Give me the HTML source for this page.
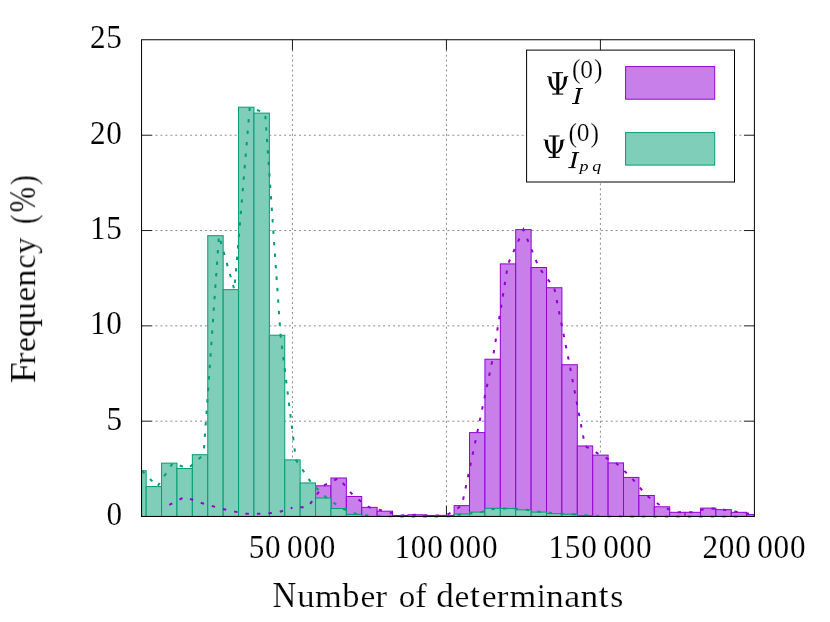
<!DOCTYPE html>
<html><head><meta charset="utf-8"><title>Histogram</title>
<style>html,body{margin:0;padding:0;background:#fff;}body{width:830px;height:622px;overflow:hidden;}</style>
</head><body>
<svg width="830" height="622" viewBox="0 0 830 622" style="display:block;font-family:'Liberation Serif',serif">
<defs><clipPath id="pc"><rect x="141.55" y="39.75" width="612.8499999999999" height="476.70000000000005"/></clipPath></defs>
<rect width="830" height="622" fill="#fff"/>
<g stroke="#000" stroke-width="0.46" stroke-dasharray="2 2.948" stroke-dashoffset="1.004" fill="none"><line x1="292.45" y1="505.95" x2="292.45" y2="50.25"/><line x1="446.44" y1="505.95" x2="446.44" y2="50.25"/><line x1="600.42" y1="505.95" x2="600.42" y2="50.25"/></g>
<g stroke="#000" stroke-width="0.46" stroke-dasharray="2 2.948" stroke-dashoffset="1.504" fill="none"><line x1="152.05" y1="421.18" x2="743.90" y2="421.18"/><line x1="152.05" y1="325.86" x2="743.90" y2="325.86"/><line x1="152.05" y1="230.54" x2="743.90" y2="230.54"/><line x1="152.05" y1="135.22" x2="743.90" y2="135.22"/></g>
<g stroke="#000" stroke-width="0.9" fill="none"><line x1="292.45" y1="516.45" x2="292.45" y2="505.95000000000005"/><line x1="292.45" y1="39.75" x2="292.45" y2="50.25"/><line x1="446.44" y1="516.45" x2="446.44" y2="505.95000000000005"/><line x1="446.44" y1="39.75" x2="446.44" y2="50.25"/><line x1="600.42" y1="516.45" x2="600.42" y2="505.95000000000005"/><line x1="600.42" y1="39.75" x2="600.42" y2="50.25"/><line x1="141.55" y1="421.18" x2="152.05" y2="421.18"/><line x1="754.4" y1="421.18" x2="743.9" y2="421.18"/><line x1="141.55" y1="325.86" x2="152.05" y2="325.86"/><line x1="754.4" y1="325.86" x2="743.9" y2="325.86"/><line x1="141.55" y1="230.54" x2="152.05" y2="230.54"/><line x1="754.4" y1="230.54" x2="743.9" y2="230.54"/><line x1="141.55" y1="135.22" x2="152.05" y2="135.22"/><line x1="754.4" y1="135.22" x2="743.9" y2="135.22"/></g>
<g clip-path="url(#pc)"><g fill="#c97fe9" stroke="#9400d3" stroke-width="1"><rect x="161.57" y="504.87" width="15.40" height="11.58"/><rect x="176.97" y="496.86" width="15.40" height="19.59"/><rect x="192.36" y="502.58" width="15.40" height="13.87"/><rect x="207.76" y="506.97" width="15.40" height="9.48"/><rect x="223.16" y="510.97" width="15.40" height="5.48"/><rect x="238.56" y="513.64" width="15.40" height="2.81"/><rect x="253.96" y="513.64" width="15.40" height="2.81"/><rect x="269.36" y="512.69" width="15.40" height="3.76"/><rect x="284.75" y="507.73" width="15.40" height="8.72"/><rect x="300.15" y="506.97" width="15.40" height="9.48"/><rect x="315.55" y="485.81" width="15.40" height="30.64"/><rect x="330.95" y="477.99" width="15.40" height="38.46"/><rect x="346.35" y="496.48" width="15.40" height="19.97"/><rect x="361.74" y="507.35" width="15.40" height="9.10"/><rect x="377.14" y="511.16" width="15.40" height="5.29"/><rect x="392.54" y="515.45" width="15.40" height="1.00"/><rect x="407.94" y="514.78" width="15.40" height="1.67"/><rect x="423.34" y="515.45" width="15.40" height="1.00"/><rect x="438.74" y="515.36" width="15.40" height="1.09"/><rect x="454.13" y="505.63" width="15.40" height="10.82"/><rect x="469.53" y="432.62" width="15.40" height="83.83"/><rect x="484.93" y="359.22" width="15.40" height="157.23"/><rect x="500.33" y="263.90" width="15.40" height="252.55"/><rect x="515.73" y="229.59" width="15.40" height="286.86"/><rect x="531.13" y="267.52" width="15.40" height="248.93"/><rect x="546.52" y="287.73" width="15.40" height="228.72"/><rect x="561.92" y="364.75" width="15.40" height="151.70"/><rect x="577.32" y="445.96" width="15.40" height="70.49"/><rect x="592.72" y="455.11" width="15.40" height="61.34"/><rect x="608.12" y="462.93" width="15.40" height="53.52"/><rect x="623.51" y="477.42" width="15.40" height="39.03"/><rect x="638.91" y="495.53" width="15.40" height="20.92"/><rect x="654.31" y="506.78" width="15.40" height="9.67"/><rect x="669.71" y="512.31" width="15.40" height="4.14"/><rect x="685.11" y="512.31" width="15.40" height="4.14"/><rect x="700.51" y="508.11" width="15.40" height="8.34"/><rect x="715.90" y="509.64" width="15.40" height="6.81"/><rect x="731.30" y="512.31" width="15.40" height="4.14"/><rect x="746.70" y="514.59" width="7.70" height="1.86"/></g><g fill="#7fceb9" stroke="#009e73" stroke-width="1"><rect x="141.55" y="470.75" width="4.62" height="45.70"/><rect x="146.17" y="486.57" width="15.40" height="29.88"/><rect x="161.57" y="463.12" width="15.40" height="53.33"/><rect x="176.97" y="468.46" width="15.40" height="47.99"/><rect x="192.36" y="454.73" width="15.40" height="61.72"/><rect x="207.76" y="235.69" width="15.40" height="280.76"/><rect x="223.16" y="289.64" width="15.40" height="226.81"/><rect x="238.56" y="107.20" width="15.40" height="409.25"/><rect x="253.96" y="113.11" width="15.40" height="403.34"/><rect x="269.36" y="335.20" width="15.40" height="181.25"/><rect x="284.75" y="459.88" width="15.40" height="56.57"/><rect x="300.15" y="482.95" width="15.40" height="33.50"/><rect x="315.55" y="498.01" width="15.40" height="18.44"/><rect x="330.95" y="508.49" width="15.40" height="7.96"/><rect x="346.35" y="514.40" width="15.40" height="2.05"/><rect x="454.13" y="514.02" width="15.40" height="2.43"/><rect x="469.53" y="512.12" width="15.40" height="4.33"/><rect x="484.93" y="508.30" width="15.40" height="8.15"/><rect x="500.33" y="508.49" width="15.40" height="7.96"/><rect x="515.73" y="509.83" width="15.40" height="6.62"/><rect x="531.13" y="512.12" width="15.40" height="4.33"/><rect x="546.52" y="513.64" width="15.40" height="2.81"/><rect x="561.92" y="514.21" width="15.40" height="2.24"/><rect x="577.32" y="515.55" width="15.40" height="0.90"/></g></g>
<path d="M169.27,504.87 L184.67,496.86 L200.06,502.58 L215.46,506.97 L230.86,510.97 L246.26,513.64 L261.66,513.64 L277.05,512.69 L292.45,507.73" fill="none" stroke="#9400d3" stroke-width="2.0" stroke-dasharray="3.4 8.10" stroke-dashoffset="0.00"/><path d="M292.45,507.73 L307.85,506.97 L323.25,485.81 L338.65,477.99 L354.05,496.48 L369.44,507.35 L384.84,511.16 L400.24,515.45 L415.64,514.78 L431.04,515.45 L446.44,515.36" fill="none" stroke="#9400d3" stroke-width="2.0" stroke-dasharray="3.4 8.10" stroke-dashoffset="3.70"/><path d="M446.44,515.36 L461.83,505.63 L477.23,432.62 L492.63,359.22 L508.03,263.90 L523.43,229.59 L538.82,267.52 L554.22,287.73 L569.62,364.75 L585.02,445.96 L600.42,455.11 L615.82,462.93 L631.21,477.42 L646.61,495.53 L662.01,506.78 L677.41,512.31 L692.81,512.31 L708.21,508.11 L723.60,509.64 L739.00,512.31 L754.40,514.59" fill="none" stroke="#9400d3" stroke-width="2.0" stroke-dasharray="3.4 8.10" stroke-dashoffset="10.21"/>
<path d="M141.97,470.75 L157.37,486.57 L172.77,463.12 L188.17,468.46 L203.56,454.73" fill="none" stroke="#009e73" stroke-width="2.0" stroke-dasharray="3.4 8.10" stroke-dashoffset="0.00"/><path d="M203.56,454.73 L218.96,235.69 L234.36,289.64" fill="none" stroke="#009e73" stroke-width="2.0" stroke-dasharray="3.4 8.10" stroke-dashoffset="5.17"/><path d="M234.36,289.64 L249.76,107.20 L265.16,113.11" fill="none" stroke="#009e73" stroke-width="2.0" stroke-dasharray="3.4 8.10" stroke-dashoffset="4.75"/><path d="M265.16,113.11 L280.55,335.20" fill="none" stroke="#009e73" stroke-width="2.0" stroke-dasharray="3.4 8.10" stroke-dashoffset="8.79"/><path d="M280.55,335.20 L295.95,459.88 L311.35,482.95 L326.75,498.01 L342.15,508.49 L357.55,514.40 L372.94,515.93" fill="none" stroke="#009e73" stroke-width="2.0" stroke-dasharray="3.4 8.10" stroke-dashoffset="0.97"/><path d="M372.94,515.93 L388.34,516.31 L403.74,516.50 L419.14,516.50 L434.54,516.50 L449.94,516.12 L465.33,514.02 L480.73,512.12 L496.13,508.30 L511.53,508.49 L526.93,509.83 L542.32,512.12 L557.72,513.64 L573.12,514.21" fill="none" stroke="#009e73" stroke-width="2.0" stroke-dasharray="3.4 8.10" stroke-dashoffset="7.24"/><path d="M573.12,514.21 L588.52,515.55 L603.92,516.12 L619.32,516.31 L634.71,516.50 L650.11,516.50 L665.51,516.50 L680.91,516.50 L696.31,516.50 L711.71,516.50 L727.10,516.50 L742.50,516.50" fill="none" stroke="#009e73" stroke-width="2.0" stroke-dasharray="3.4 8.10" stroke-dashoffset="0.25"/>
<rect x="141.55" y="39.75" width="612.8499999999999" height="476.70000000000005" fill="none" stroke="#000" stroke-width="1"/>
<rect x="526.6" y="50.1" width="207.9" height="131.9" fill="#fff" stroke="#000" stroke-width="1"/>
<rect x="625.6" y="66.6" width="89.1" height="32.6" fill="#c97fe9" stroke="#9400d3" stroke-width="1"/>
<rect x="625.6" y="132.6" width="89.1" height="32.5" fill="#7fceb9" stroke="#009e73" stroke-width="1"/>
<g fill="#000" opacity="0.999" stroke="#fff" stroke-width="0.2">
<g stroke="none" transform="translate(540.00,56.00) scale(0.08197)"><path d="M103,258 C103,330 130,405 197,418 L197,398 C160,390 142,340 140,252 L85,243 L90,256 Z"/><path d="M329,258 C329,330 302,405 235,418 L235,398 C272,390 290,340 292,252 L347,243 L342,256 Z"/><rect x="198" y="203" width="37" height="262"/><rect x="150" y="197" width="132" height="13"/><rect x="148" y="458" width="136" height="13"/></g>
<text transform="translate(571.90,78.20) scale(0.92,1.0)" font-size="27.8">(</text>
<text transform="translate(580.20,78.00) scale(1.04,1.0)" font-size="24.5">0</text>
<text transform="translate(593.90,78.20) scale(0.92,1.0)" font-size="27.8">)</text>
<g stroke="none" transform="translate(0.00,0.00)"><path d="M574.75,103.5 L578.2,88.5 L580.85,88.5 L577.4,103.5 Z"/><rect x="575.8" y="88.0" width="7.1" height="1.0"/><rect x="572.0" y="103.0" width="7.2" height="1.0"/></g>
<g stroke="none" transform="translate(536.45,119.30) scale(0.08197)"><path d="M103,258 C103,330 130,405 197,418 L197,398 C160,390 142,340 140,252 L85,243 L90,256 Z"/><path d="M329,258 C329,330 302,405 235,418 L235,398 C272,390 290,340 292,252 L347,243 L342,256 Z"/><rect x="198" y="203" width="37" height="262"/><rect x="150" y="197" width="132" height="13"/><rect x="148" y="458" width="136" height="13"/></g>
<text transform="translate(568.50,141.50) scale(0.92,1.0)" font-size="27.8">(</text>
<text transform="translate(576.80,141.30) scale(1.04,1.0)" font-size="24.5">0</text>
<text transform="translate(590.50,141.50) scale(0.92,1.0)" font-size="27.8">)</text>
<g stroke="none" transform="translate(-3.70,64.10)"><path d="M574.75,103.5 L578.2,88.5 L580.85,88.5 L577.4,103.5 Z"/><rect x="575.8" y="88.0" width="7.1" height="1.0"/><rect x="572.0" y="103.0" width="7.2" height="1.0"/></g>
<text transform="translate(579.60,170.50) scale(1.15,1.0)" font-size="15.6" font-style="italic" stroke="none">p</text>
<text transform="translate(592.20,170.50) scale(1.15,1.0)" font-size="15.6" font-style="italic" stroke="none">q</text>
<text transform="translate(106.38,525.00) scale(0.95,1.045)" font-size="32.83" letter-spacing="0.864" stroke-width="0.12">0</text>
<text transform="translate(106.38,429.68) scale(0.95,1.045)" font-size="32.83" letter-spacing="0.864" stroke-width="0.12">5</text>
<text transform="translate(89.96,334.36) scale(0.95,1.045)" font-size="32.83" letter-spacing="0.864" stroke-width="0.12">10</text>
<text transform="translate(89.96,239.04) scale(0.95,1.045)" font-size="32.83" letter-spacing="0.864" stroke-width="0.12">15</text>
<text transform="translate(89.96,143.72) scale(0.95,1.045)" font-size="32.83" letter-spacing="0.864" stroke-width="0.12">20</text>
<text transform="translate(89.96,48.40) scale(0.95,1.045)" font-size="32.83" letter-spacing="0.864" stroke-width="0.12">25</text>
<text transform="translate(248.67,558.00) scale(0.95,1.045)" font-size="32.83" letter-spacing="0.864" stroke-width="0.12">50</text>
<text transform="translate(286.98,558.00) scale(0.95,1.045)" font-size="32.83" letter-spacing="0.864" stroke-width="0.12">000</text>
<text transform="translate(394.44,558.00) scale(0.95,1.045)" font-size="32.83" letter-spacing="0.864" stroke-width="0.12">100</text>
<text transform="translate(449.17,558.00) scale(0.95,1.045)" font-size="32.83" letter-spacing="0.864" stroke-width="0.12">000</text>
<text transform="translate(548.42,558.00) scale(0.95,1.045)" font-size="32.83" letter-spacing="0.864" stroke-width="0.12">150</text>
<text transform="translate(603.15,558.00) scale(0.95,1.045)" font-size="32.83" letter-spacing="0.864" stroke-width="0.12">000</text>
<text transform="translate(702.40,558.00) scale(0.95,1.045)" font-size="32.83" letter-spacing="0.864" stroke-width="0.12">200</text>
<text transform="translate(757.13,558.00) scale(0.95,1.045)" font-size="32.83" letter-spacing="0.864" stroke-width="0.12">000</text>
<g transform="translate(272.0,606.9)"><text transform="translate(0.42,0.0) scale(1.004,1.06)" font-size="32.83">N</text><text transform="translate(25.16,0.0) scale(1.058,0.94)" font-size="32.83">u</text><text transform="translate(43.07,0.0) scale(1.048,0.94)" font-size="32.83">m</text><text transform="translate(70.19,0.0) scale(1.051,1.02)" font-size="32.83">b</text><text transform="translate(88.39,0.0) scale(1.018,0.94)" font-size="32.83">e</text><text transform="translate(103.23,0.0) scale(1.087,0.94)" font-size="32.83">r</text><text transform="translate(126.78,0.0) scale(1.007,0.94)" font-size="32.83">o</text><text transform="translate(143.32,0.0) scale(1.045,1.02)" font-size="32.83">f</text><text transform="translate(164.31,0.0) scale(1.072,1.02)" font-size="32.83">d</text><text transform="translate(182.42,0.0) scale(1.018,0.94)" font-size="32.83">e</text><text transform="translate(197.70,0.0) scale(1.118,1.02)" font-size="32.83">t</text><text transform="translate(209.77,0.0) scale(1.018,0.94)" font-size="32.83">e</text><text transform="translate(224.60,0.0) scale(1.087,0.94)" font-size="32.83">r</text><text transform="translate(237.49,0.0) scale(1.048,0.94)" font-size="32.83">m</text><text transform="translate(265.14,0.0) scale(0.892,1.02)" font-size="32.83">i</text><text transform="translate(273.95,0.0) scale(1.081,0.94)" font-size="32.83">n</text><text transform="translate(292.25,0.0) scale(1.105,0.94)" font-size="32.83">a</text><text transform="translate(308.61,0.0) scale(1.081,0.94)" font-size="32.83">n</text><text transform="translate(326.40,0.0) scale(1.118,1.02)" font-size="32.83">t</text><text transform="translate(338.28,0.0) scale(1.022,0.94)" font-size="32.83">s</text></g>
<g transform="translate(35.1,383.48) rotate(-90)"><text transform="translate(0.33,0.0) scale(1.154,1.06)" font-size="32.83">F</text><text transform="translate(18.89,0.0) scale(1.087,0.94)" font-size="32.83">r</text><text transform="translate(31.50,0.0) scale(1.018,0.94)" font-size="32.83">e</text><text transform="translate(46.16,0.0) scale(1.133,0.94)" font-size="32.83">q</text><text transform="translate(64.03,0.0) scale(1.058,0.94)" font-size="32.83">u</text><text transform="translate(81.66,0.0) scale(1.018,0.94)" font-size="32.83">e</text><text transform="translate(96.50,0.0) scale(1.081,0.94)" font-size="32.83">n</text><text transform="translate(114.73,0.0) scale(0.977,0.94)" font-size="32.83">c</text><text transform="translate(129.45,0.0) scale(0.998,0.94)" font-size="32.83">y</text><text transform="translate(159.54,0.0) scale(0.863,1.1)" font-size="32.83">(</text><text transform="translate(171.11,0.0) scale(0.935,1.15)" font-size="32.83">%</text><text transform="translate(198.49,0.0) scale(0.896,1.1)" font-size="32.83">)</text></g>
</g>
</svg>
</body></html>
